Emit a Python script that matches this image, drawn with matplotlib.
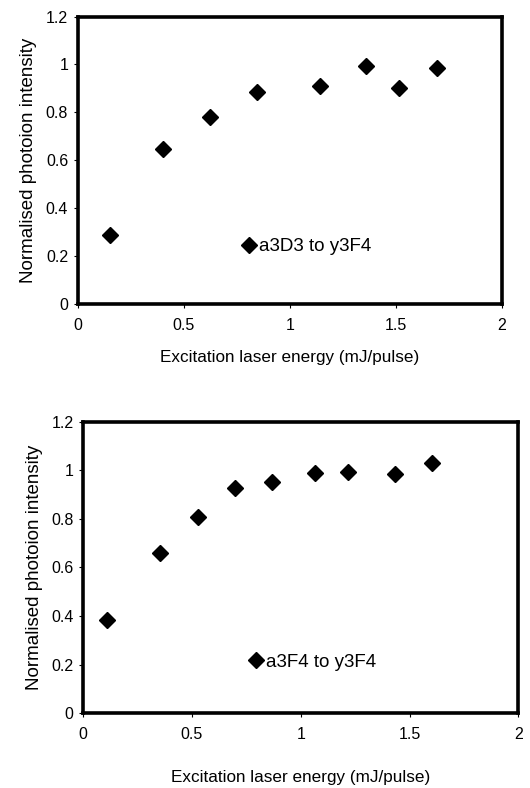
import matplotlib.pyplot as plt

plt.rcParams['font.family'] = ['Liberation Sans', 'DejaVu Sans']

# top panel: a3D3 -> y3F4
energy_top = [0.15, 0.40, 0.625, 0.847, 1.144, 1.357, 1.513, 1.692]
intensity_top = [0.288, 0.648, 0.779, 0.884, 0.912, 0.992, 0.901, 0.986]
label_top = 'a3D3 to y3F4'

# bottom panel: a3F4 -> y3F4
energy_bot = [0.110, 0.352, 0.526, 0.696, 0.867, 1.065, 1.215, 1.434, 1.605]
intensity_bot = [0.384, 0.661, 0.807, 0.926, 0.953, 0.990, 0.993, 0.985, 1.029]
label_bot = 'a3F4 to y3F4'

x_ticks = [0, 0.5, 1, 1.5, 2]
x_ticklabels = ['0', '0.5', '1', '1.5', '2']
y_ticks = [0, 0.2, 0.4, 0.6, 0.8, 1.0, 1.2]
y_ticklabels = ['0', '0.2', '0.4', '0.6', '0.8', '1', '1.2']

fig = plt.figure(figsize=(5.3, 7.88), dpi=100)
ax1 = fig.add_axes([0.147, 0.614, 0.800, 0.365])
ax2 = fig.add_axes([0.157, 0.095, 0.821, 0.370])


def style(ax, x, y, label, leg_xy, xpad):
    ax.plot(x, y, linestyle='none', marker='D', markersize=8.5,
            color='black', label=label)
    ax.set_xlim(0, 2)
    ax.set_ylim(0, 1.2)
    ax.set_xticks(x_ticks)
    ax.set_xticklabels(x_ticklabels)
    ax.set_yticks(y_ticks)
    ax.set_yticklabels(y_ticklabels)
    ax.tick_params(direction='out', length=3, width=0.8, labelsize=11.5,
                   colors='black')
    ax.tick_params(axis='x', pad=7)
    ax.tick_params(axis='y', pad=4)
    for s in ax.spines.values():
        s.set_linewidth(2.6)
    ax.set_xlabel('Excitation laser energy (mJ/pulse)', fontsize=12.3, labelpad=xpad)
    ax.set_ylabel('Normalised photoion intensity', fontsize=13.5, labelpad=6)
    ax.legend(frameon=False, loc='center left', fontsize=13.5,
              bbox_to_anchor=leg_xy, bbox_transform=ax.transData,
              handlelength=0.6, handletextpad=0.25, borderpad=0, borderaxespad=0)


style(ax1, energy_top, intensity_top, label_top, (0.78, 0.24), 12)
style(ax2, energy_bot, intensity_bot, label_bot, (0.767, 0.209), 20)

fig.savefig('out.png', dpi=100)
